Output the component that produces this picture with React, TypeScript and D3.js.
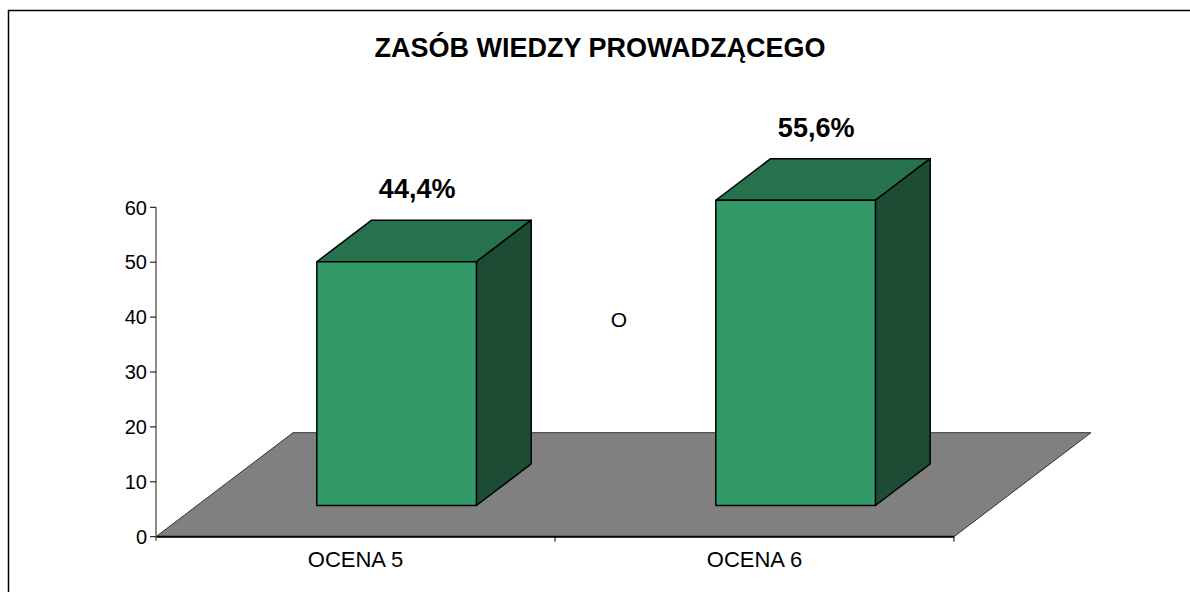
import { useMemo } from 'react'
import * as d3 from 'd3'

const categories = ['OCENA 5', 'OCENA 6']
const values = [44.4, 55.6]
const valueLabels = ['44,4%', '55,6%']
const yTicks = [0, 10, 20, 30, 40, 50, 60]

const W = 1190
const H = 592
const FONT = '"Liberation Sans", Arial, sans-serif'

const LEFT = 156
const RIGHT = 954
const FLOOR_Y = 536.7
const TOP_Y = 207.3
const DEPTH_X = 137
const DEPTH_Y = -104

const FRONT = '#339966'
const TOP = '#26724d'
const SIDE = '#1c4c34'

export default function App() {
  const y = useMemo(() => d3.scaleLinear().domain([0, 60]).range([FLOOR_Y, TOP_Y]), [])
  const x = useMemo(
    () => d3.scaleBand<string>().domain(categories).range([LEFT, RIGHT]).paddingInner(0.6).paddingOuter(0.3),
    []
  )
  const xTick = useMemo(() => d3.scaleBand<string>().domain(categories).range([LEFT, RIGHT]), [])
  const dx = d3.scaleLinear().domain([0, 1]).range([0, DEPTH_X])
  const dy = d3.scaleLinear().domain([0, 1]).range([0, DEPTH_Y])

  const poly = (pts: [number, number][]) => d3.line()(pts.concat([pts[0]])) ?? ''

  const floor = poly([
    [LEFT, FLOOR_Y],
    [RIGHT, FLOOR_Y],
    [RIGHT + dx(1), FLOOR_Y + dy(1)],
    [LEFT + dx(1), FLOOR_Y + dy(1)],
  ])

  const d0 = 0.3
  const d1 = 0.7
  const bw = x.bandwidth()

  return (
    <svg width={W} height={H} style={{ position: 'absolute', left: 0, top: 0 }} fontFamily={FONT}>
      <rect x={0} y={0} width={W} height={H} fill="#fff" />
      <rect x={8.5} y={10.5} width={1300} height={700} fill="none" stroke="#000" strokeWidth={1.5} />

      <text x={600} y={57} textAnchor="middle" fontSize={27} fontWeight="bold">
        ZASÓB WIEDZY PROWADZĄCEGO
      </text>

      <path d={floor} fill="#808080" stroke="#333" strokeWidth={1} />
      <line x1={LEFT} x2={RIGHT} y1={FLOOR_Y} y2={FLOOR_Y} stroke="#000" strokeWidth={2} />

      {/* y axis */}
      <line x1={LEFT} x2={LEFT} y1={TOP_Y} y2={FLOOR_Y + 4} stroke="#666" strokeWidth={1.5} />
      {yTicks.map((t) => (
        <g key={t}>
          <line x1={LEFT - 6} x2={LEFT} y1={y(t)} y2={y(t)} stroke="#000" />
          <text x={LEFT - 9} y={y(t)} dy="0.36em" textAnchor="end" fontSize={20}>
            {t}
          </text>
        </g>
      ))}

      {/* category ticks */}
      {categories.map((c) => (
        <line key={c} x1={xTick(c)! + xTick.bandwidth()} x2={xTick(c)! + xTick.bandwidth()} y1={FLOOR_Y} y2={FLOOR_Y + 5} stroke="#000" />
      ))}
      {categories.map((c) => (
        <text key={c} x={xTick(c)! + xTick.bandwidth() / 2} y={567} textAnchor="middle" fontSize={22}>
          {c}
        </text>
      ))}

      {/* bars */}
      {values.map((v, i) => {
        const x0 = x(categories[i])! + dx(d0)
        const x1 = x0 + bw
        const yb = y(0) + dy(d0)
        const yt = y(v) + dy(d0)
        const ox = dx(d1) - dx(d0)
        const oy = dy(d1) - dy(d0)
        return (
          <g key={categories[i]} stroke="#000" strokeWidth={1.5} strokeLinejoin="round">
            <path d={poly([[x0, yt], [x1, yt], [x1 + ox, yt + oy], [x0 + ox, yt + oy]])} fill={TOP} />
            <path d={poly([[x1, yt], [x1 + ox, yt + oy], [x1 + ox, yb + oy], [x1, yb]])} fill={SIDE} />
            <rect x={x0} y={yt} width={bw} height={yb - yt} fill={FRONT} />
          </g>
        )
      })}

      {values.map((v, i) => (
        <text
          key={valueLabels[i]}
          x={x(categories[i])! + bw / 2 + dx(0.45)}
          y={y(v) + dy(d1) - 22}
          textAnchor="middle"
          fontSize={27}
          fontWeight="bold"
        >
          {valueLabels[i]}
        </text>
      ))}

      <text x={619} y={327} textAnchor="middle" fontSize={21}>
        O
      </text>
    </svg>
  )
}
